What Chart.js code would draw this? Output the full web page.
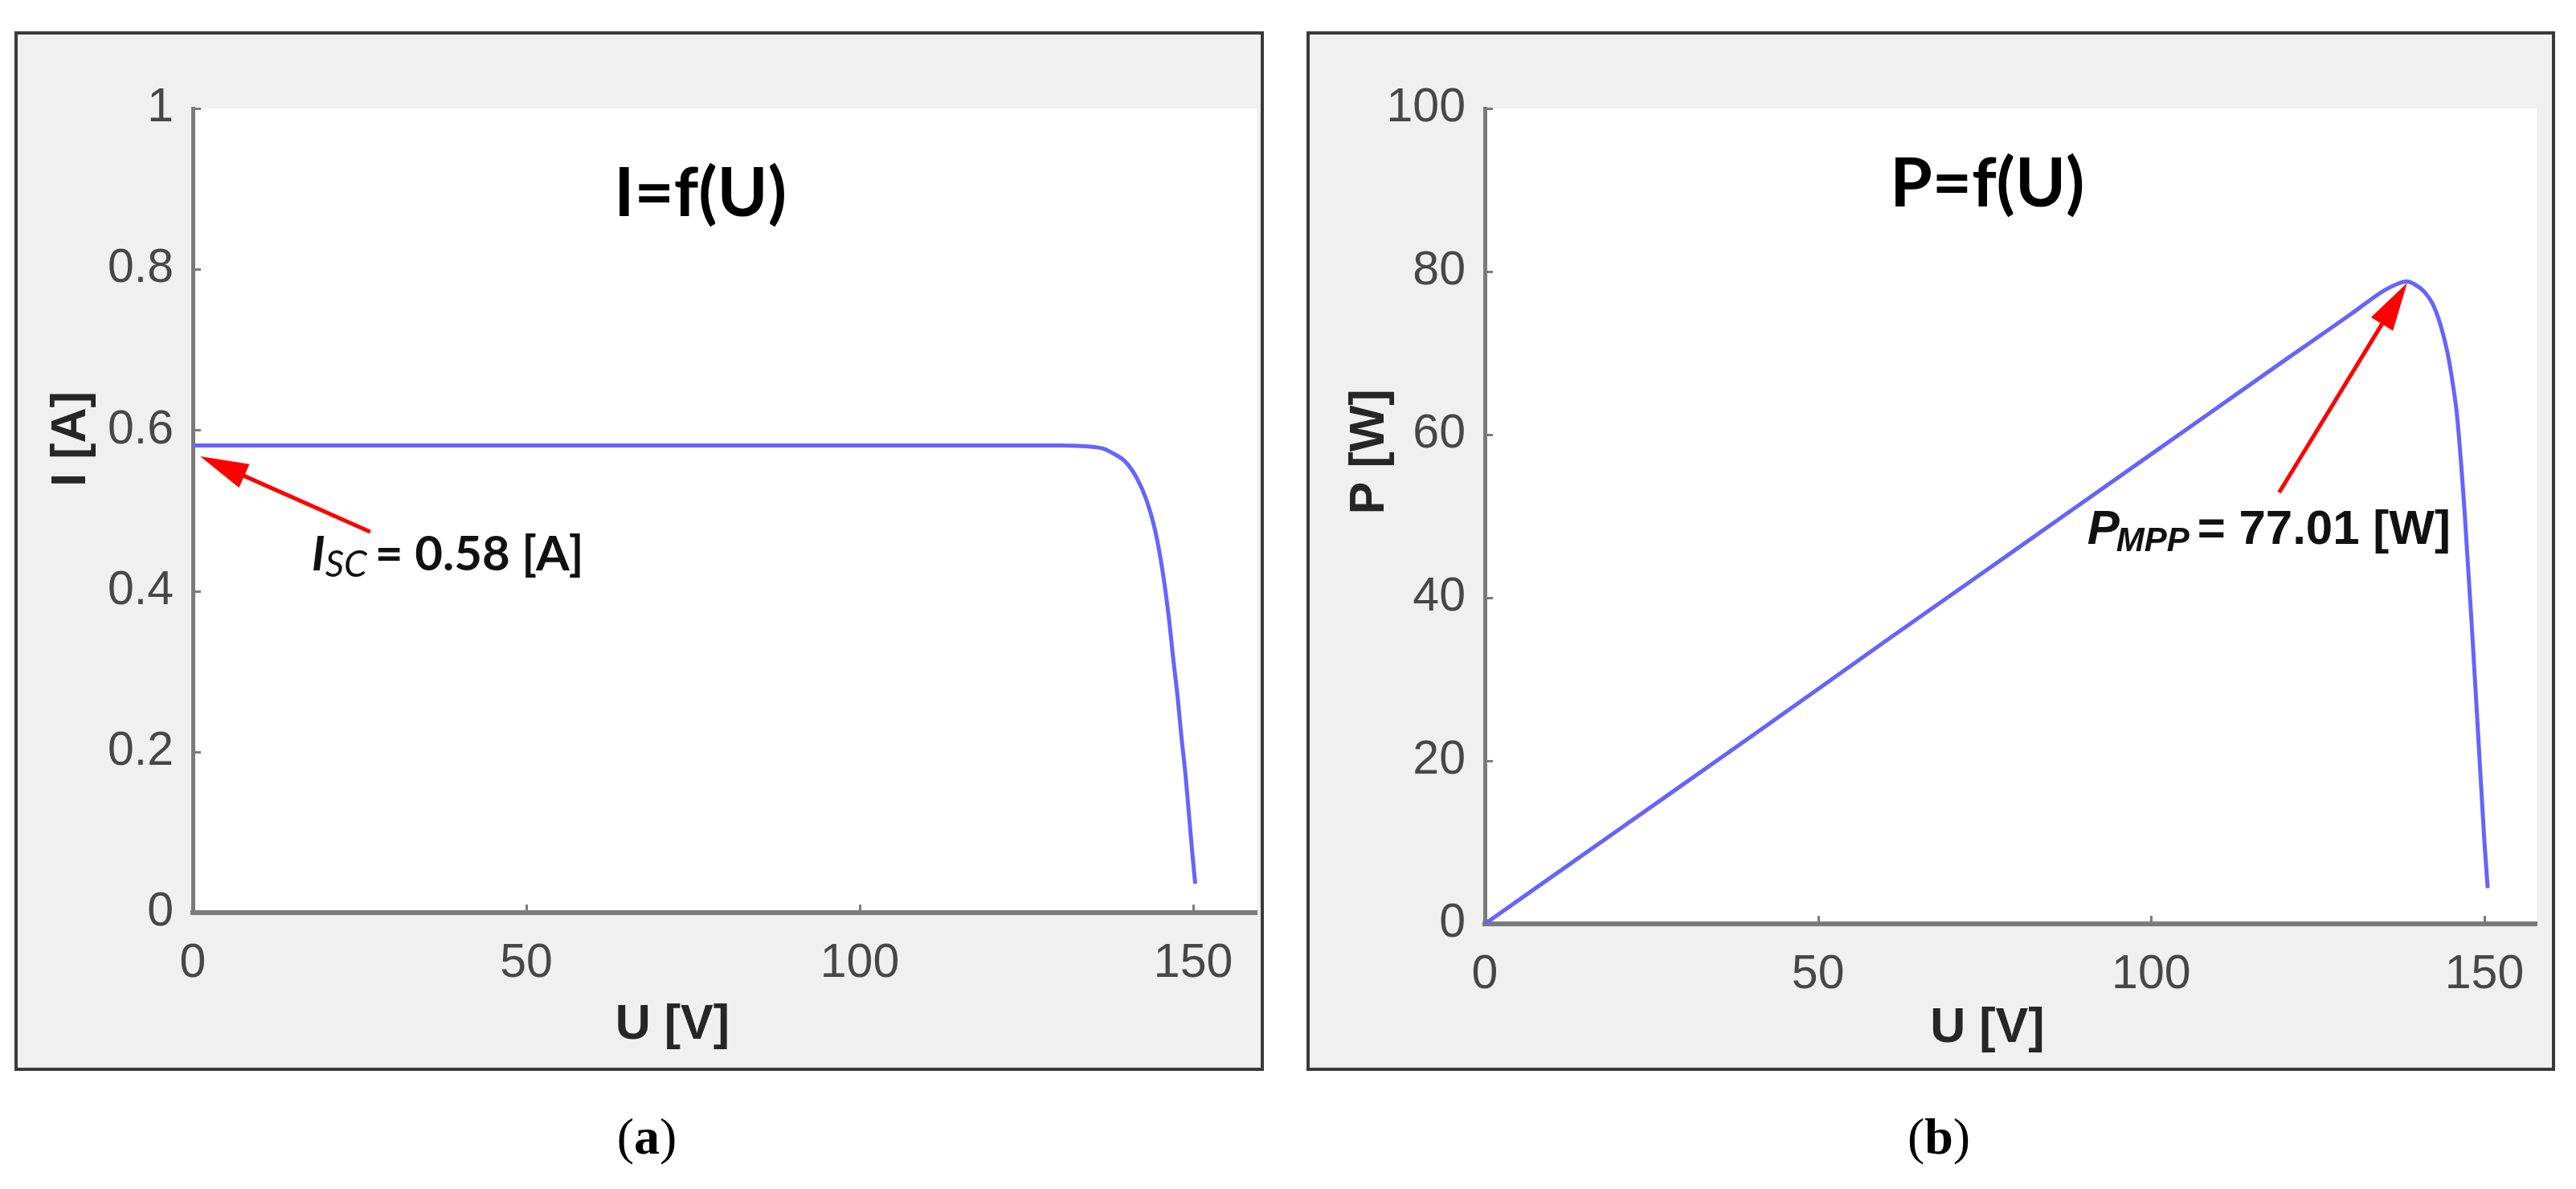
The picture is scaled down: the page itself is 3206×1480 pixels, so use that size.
<!DOCTYPE html>
<html>
<head>
<meta charset="utf-8">
<script src="https://cdn.jsdelivr.net/npm/chart.js@4.4.1/dist/chart.umd.min.js"></script>
<style>
html,body{margin:0;padding:0;background:#ffffff;}
body{width:3206px;height:1480px;position:relative;overflow:hidden;}
.panel{position:absolute;box-sizing:border-box;border:4px solid #3a3a3a;background:#f0f0f0;top:39px;height:1294px;}
#pa{left:18px;width:1555px;}
#pb{left:1626px;width:1554px;}
.panel canvas{position:absolute;left:0;top:0;}
.cap{position:absolute;top:1383px;font-family:'Liberation Serif','Times New Roman',serif;font-size:64px;line-height:1;color:#000;transform:translateX(-50%);white-space:nowrap;}
</style>
</head>
<body>
<div class="panel" id="pa"><canvas id="ca" width="1547" height="1286"></canvas></div>
<div class="panel" id="pb"><canvas id="cb" width="1546" height="1286"></canvas></div>
<div class="cap" style="left:805px">(<b>a</b>)</div>
<div class="cap" style="left:2413px">(<b>b</b>)</div>
<script>
// ---------------- data ----------------
const uTickLabels = ['0', '50', '100', '150'];
const iTickLabels = ['0', '0.2', '0.4', '0.6', '0.8', '1'];
const pTickLabels = ['0', '20', '40', '60', '80', '100'];

// I = f(U)
const ivVoltage = [0, 20, 40, 60, 80, 100, 120, 130, 133.7, 135.2, 136.5, 138, 139.8, 141.5, 143, 144.3, 145.4, 146.3, 147, 147.7, 148.2, 148.8, 149.2, 149.8, 150.3];
const ivCurrent = [0.581, 0.581, 0.581, 0.581, 0.581, 0.581, 0.581, 0.581, 0.580, 0.579, 0.577, 0.571, 0.561, 0.541, 0.513, 0.475, 0.425, 0.370, 0.316, 0.265, 0.221, 0.175, 0.138, 0.080, 0.036];

// P = f(U)
const pvVoltage = [0, 20, 40, 60, 80, 100, 120, 130, 135, 137, 138.3, 139.6, 141, 142.2, 143.4, 144.5, 145.3, 145.9, 147, 148.2, 149.1, 150, 150.5];
const pvPower   = [0, 11.5, 23.0, 34.6, 46.1, 57.6, 69.1, 74.8, 77.7, 78.5, 78.8, 78.4, 77.5, 76.1, 73.5, 69.9, 66.0, 62.3, 50.9, 35.3, 22.7, 10.1, 4.4];

const iscText = '= 0.58 [A]';
const pmppText = '= 77.01 [W]';

// ---------------- styles ----------------
function hasFont(name) {
  const c = document.createElement('canvas').getContext('2d');
  const s = 'abcdefghijklmW0123456789[]';
  c.font = '40px monospace'; const a = c.measureText(s).width;
  c.font = '40px "' + name + '", monospace'; const b = c.measureText(s).width;
  return Math.abs(a - b) > 0.5;
}
const NARROW = hasFont('Liberation Sans Narrow');
const TICK_FAMILY = NARROW ? '"Liberation Sans Narrow", "Liberation Sans", Arial, sans-serif' : '"Liberation Sans", Arial, sans-serif';
const TICK_SIZE = NARROW ? 62 : 59;
const AXT_FONT = NARROW ? 'bold 70px "Liberation Sans Narrow", "Liberation Sans", Arial, sans-serif' : 'bold 61px "Liberation Sans", Arial, sans-serif';
const LINE = 'rgb(100,100,255)';
const AXIS = '#7b7b7b';
const TICKC = '#474747';

const decorPlugin = {
  id: 'decor',
  beforeDraw(chart) {
    const {ctx, chartArea: a} = chart;
    ctx.save();
    ctx.fillStyle = '#ffffff';
    ctx.fillRect(a.left, a.top, a.right - a.left, a.bottom - a.top);
    ctx.restore();
  },
  afterDraw(chart, args, o) {
    const {ctx, chartArea: a} = chart;
    const x = chart.scales.x, y = chart.scales.y;
    ctx.save();
    // inward ticks
    ctx.strokeStyle = AXIS; ctx.lineWidth = 3;
    x.ticks.forEach(t => {
      if (t.value === x.min) return;
      const px = Math.round(x.getPixelForValue(t.value)) + 0.5;
      ctx.beginPath(); ctx.moveTo(px, a.bottom); ctx.lineTo(px, a.bottom - 10); ctx.stroke();
    });
    y.ticks.forEach(t => {
      if (t.value === y.min) return;
      const py = Math.round(y.getPixelForValue(t.value)) + 0.5;
      ctx.beginPath(); ctx.moveTo(a.left, py); ctx.lineTo(a.left + 10, py); ctx.stroke();
    });
    // chart title
    ctx.fillStyle = '#000';
    ctx.font = 'bold 85px Lato, "Open Sans", sans-serif';
    ctx.textAlign = 'center'; ctx.textBaseline = 'middle';
    ctx.fillText(o.title.text, x.getPixelForValue(o.title.x), y.getPixelForValue(o.title.y));
    // axis titles
    ctx.fillStyle = '#262626';
    ctx.font = AXT_FONT;
    ctx.fillText(o.xTitle.text, x.getPixelForValue(o.xTitle.x), a.bottom + o.xTitle.dy);
    ctx.save();
    ctx.translate(a.left + o.yTitle.dx, y.getPixelForValue(o.yTitle.y));
    ctx.rotate(-Math.PI / 2);
    ctx.fillText(o.yTitle.text, 0, 0);
    ctx.restore();
    // arrow
    const tx = x.getPixelForValue(o.arrow.to[0]), ty = y.getPixelForValue(o.arrow.to[1]);
    const fx = x.getPixelForValue(o.arrow.from[0]), fy = y.getPixelForValue(o.arrow.from[1]);
    const ang = Math.atan2(ty - fy, tx - fx);
    const hl = 60, hw = 16;
    const bx = tx - hl * Math.cos(ang), by = ty - hl * Math.sin(ang);
    ctx.strokeStyle = '#ff0000'; ctx.fillStyle = '#ff0000'; ctx.lineWidth = 5; ctx.lineCap = 'butt';
    ctx.beginPath(); ctx.moveTo(fx, fy); ctx.lineTo(bx + 5 * Math.cos(ang), by + 5 * Math.sin(ang)); ctx.stroke();
    ctx.beginPath();
    ctx.moveTo(tx, ty);
    ctx.lineTo(bx + hw * Math.sin(ang), by - hw * Math.cos(ang));
    ctx.lineTo(bx - hw * Math.sin(ang), by + hw * Math.cos(ang));
    ctx.closePath(); ctx.fill();
    // note
    const n = o.note;
    let cx = x.getPixelForValue(n.x);
    const base = y.getPixelForValue(n.y);
    ctx.fillStyle = '#111'; ctx.textAlign = 'left'; ctx.textBaseline = 'alphabetic';
    ctx.font = n.mainFont; ctx.fillText(n.main, cx, base); cx += ctx.measureText(n.main).width + n.gap1;
    ctx.font = n.subFont; ctx.fillText(n.sub, cx, base + n.drop); cx += ctx.measureText(n.sub).width + n.gap2;
    ctx.font = n.restFont; ctx.fillText(n.rest, cx, base);
    ctx.restore();
  }
};

function makeChart(id, cfg) {
  const c = document.getElementById(id);
  const W = c.width, H = c.height;
  return new Chart(c, {
    type: 'scatter',
    data: {
      datasets: [{
        data: cfg.xs.map((v, i) => ({x: v, y: cfg.ys[i]})),
        showLine: true, borderColor: LINE, borderWidth: 5,
        pointRadius: 0, pointHoverRadius: 0, fill: false,
        cubicInterpolationMode: 'monotone'
      }]
    },
    options: {
      responsive: false, animation: false, devicePixelRatio: 1, events: [],
      layout: {padding: {left: 0, top: cfg.area.top, right: W - cfg.area.right, bottom: 0}},
      plugins: {legend: {display: false}, tooltip: {enabled: false}, decor: cfg.decor},
      scales: {
        x: {
          type: 'linear', position: 'bottom', min: 0, max: cfg.xMax,
          afterBuildTicks: s => { s.ticks = uTickLabels.map(t => ({value: Number(t)})); },
          afterFit: s => { s.height = H - cfg.area.bottom; },
          grid: {display: false, drawTicks: false},
          border: {display: true, color: AXIS, width: 6},
          ticks: {
            callback: (v, i) => uTickLabels[i], color: TICKC, autoSkip: false, maxRotation: 0,
            font: {family: TICK_FAMILY, size: TICK_SIZE, lineHeight: 1}, padding: 64 - TICK_SIZE / 2
          }
        },
        y: {
          type: 'linear', position: 'left', min: 0, max: Number(cfg.yLabels[cfg.yLabels.length - 1]),
          afterBuildTicks: s => { s.ticks = cfg.yLabels.map(t => ({value: Number(t)})); },
          afterFit: s => { s.width = cfg.area.left; },
          grid: {display: false, drawTicks: false},
          border: {display: true, color: AXIS, width: 5},
          ticks: {
            callback: (v, i) => cfg.yLabels[i], color: TICKC,
            font: {family: TICK_FAMILY, size: TICK_SIZE, lineHeight: 1}, padding: 24
          }
        }
      }
    },
    plugins: [decorPlugin]
  });
}

makeChart('ca', {
  xs: ivVoltage, ys: ivCurrent, yLabels: iTickLabels, xMax: 159.6,
  area: {left: 218, right: 1543, top: 92, bottom: 1093},
  decor: {
    title: {text: 'I=f(U)', x: 76.1, y: 0.894},
    xTitle: {text: 'U [V]', x: 71.9, dy: 140},
    yTitle: {text: 'I [A]', dx: -151, y: 0.589},
    arrow: {from: [26.6, 0.4735], to: [1.1, 0.5674]},
    note: {
      x: 17.8, y: 0.4256, main: 'I', sub: 'SC', rest: iscText,
      mainFont: 'italic bold 60px Lato, sans-serif', subFont: 'italic 46px Lato, sans-serif',
      restFont: 'bold 60px Lato, sans-serif', gap1: 0, gap2: 10, drop: 8
    }
  }
});

makeChart('cb', {
  xs: pvVoltage, ys: pvPower, yLabels: pTickLabels, xMax: 157.9,
  area: {left: 218, right: 1540, top: 92, bottom: 1107},
  decor: {
    title: {text: 'P=f(U)', x: 75.4, y: 90.7},
    xTitle: {text: 'U [V]', x: 75.4, dy: 130},
    yTitle: {text: 'P [W]', dx: -143, y: 57.9},
    arrow: {from: [119.2, 52.9], to: [138.4, 78.6]},
    note: {
      x: 90.4, y: 46.6, main: 'P', sub: 'MPP', rest: pmppText,
      mainFont: 'italic bold 60px "Liberation Sans", Arial, sans-serif', subFont: 'italic bold 42px "Liberation Sans", Arial, sans-serif',
      restFont: 'bold 60px "Liberation Sans", Arial, sans-serif', gap1: -4, gap2: 10, drop: 9
    }
  }
});
</script>
</body>
</html>
